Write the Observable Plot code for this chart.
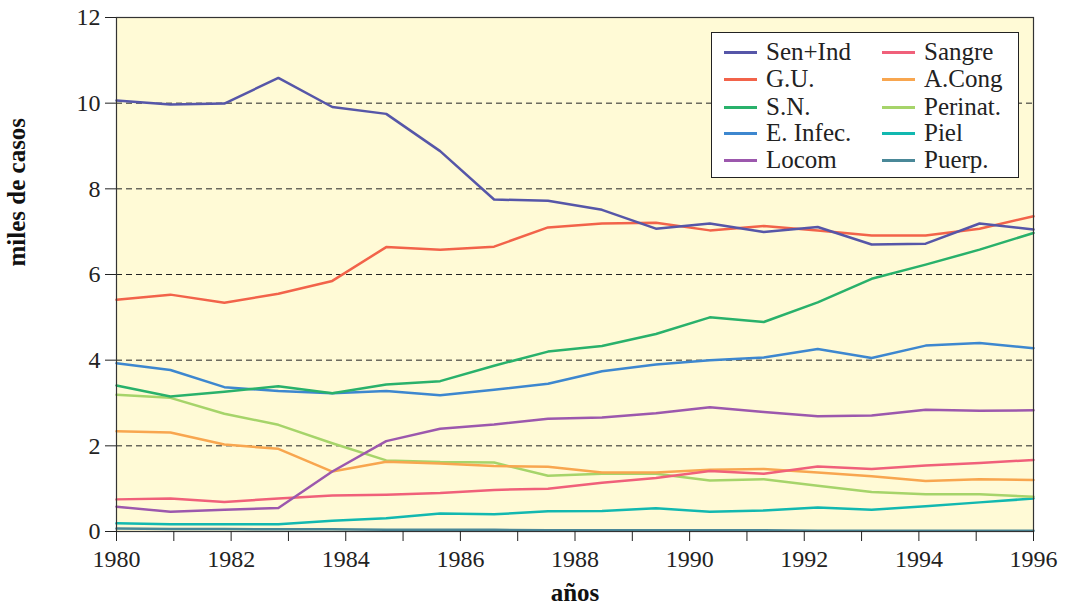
<!DOCTYPE html>
<html>
<head>
<meta charset="utf-8">
<script src="https://cdn.jsdelivr.net/npm/d3@7"></script>
<script src="https://cdn.jsdelivr.net/npm/@observablehq/plot@0.6"></script>
<style>
  html, body { margin: 0; padding: 0; background: #fff; }
  #wrap { position: relative; width: 1074px; height: 610px; }
  #legend { position: absolute; left: 711px; top: 32px; width: 306px; height: 144px;
    background: #fff; border: 1.5px solid #222; font-family: "Liberation Serif", "Times New Roman", Times, "DejaVu Serif", serif; font-size: 25px; color: #222; }
  .item { position: absolute; display: flex; align-items: center; height: 26px; white-space: nowrap; }
  .item span.sw { display: inline-block; width: 33px; height: 3px; margin-right: 9px; }
</style>
</head>
<body>
<div id="wrap"></div>
<script>
// x positions (years) of the 18 data points
const puntos = [1980, 1980.941, 1981.882, 1982.824, 1983.765, 1984.706, 1985.647, 1986.588, 1987.529,
                1988.471, 1989.412, 1990.353, 1991.294, 1992.235, 1993.176, 1994.118, 1995.059, 1996];

const senInd  = [10.06, 9.97, 9.99, 10.59, 9.91, 9.75, 8.88, 7.75, 7.72, 7.51, 7.07, 7.19, 6.99, 7.11, 6.70, 6.72, 7.19, 7.05];
const gu      = [5.41, 5.53, 5.34, 5.55, 5.85, 6.64, 6.58, 6.65, 7.10, 7.19, 7.21, 7.03, 7.13, 7.03, 6.91, 6.91, 7.07, 7.36];
const sn      = [3.41, 3.15, 3.26, 3.39, 3.23, 3.43, 3.51, 3.87, 4.20, 4.33, 4.61, 5.00, 4.89, 5.35, 5.90, 6.23, 6.58, 6.97];
const eInfec  = [3.93, 3.77, 3.37, 3.28, 3.23, 3.28, 3.18, 3.31, 3.45, 3.74, 3.90, 4.00, 4.06, 4.26, 4.05, 4.34, 4.40, 4.28];
const locom   = [0.58, 0.46, 0.51, 0.55, 1.40, 2.11, 2.40, 2.50, 2.63, 2.66, 2.76, 2.90, 2.79, 2.69, 2.71, 2.84, 2.82, 2.83];
const sangre  = [0.75, 0.77, 0.69, 0.77, 0.84, 0.86, 0.90, 0.97, 1.00, 1.14, 1.25, 1.41, 1.35, 1.52, 1.46, 1.54, 1.60, 1.67];
const aCong   = [2.34, 2.31, 2.03, 1.93, 1.40, 1.63, 1.59, 1.53, 1.51, 1.38, 1.38, 1.44, 1.46, 1.38, 1.29, 1.18, 1.22, 1.20];
const perinat = [3.19, 3.12, 2.75, 2.49, 2.06, 1.66, 1.62, 1.61, 1.30, 1.35, 1.35, 1.19, 1.22, 1.07, 0.92, 0.87, 0.87, 0.81];
const piel    = [0.19, 0.17, 0.17, 0.17, 0.25, 0.31, 0.42, 0.40, 0.47, 0.48, 0.54, 0.46, 0.49, 0.56, 0.51, 0.59, 0.68, 0.77];
const puerp   = [0.07, 0.06, 0.06, 0.05, 0.05, 0.04, 0.04, 0.04, 0.03, 0.03, 0.03, 0.03, 0.03, 0.02, 0.02, 0.02, 0.02, 0.02];

const nombres = ["Sen+Ind", "G.U.", "S.N.", "E. Infec.", "Locom", "Sangre", "A.Cong", "Perinat.", "Piel", "Puerp."];
const valores = [senInd, gu, sn, eInfec, locom, sangre, aCong, perinat, piel, puerp];
const colores = ["#5656a8", "#f2634a", "#29b16b", "#3d87cf", "#9c58ad", "#f0607a", "#f8a64f", "#a6d46a", "#12b8b0", "#4a8898"];

const yTicks = [0, 2, 4, 6, 8, 10, 12];
const gridY = [2, 4, 6, 8, 10];
const xTicks = d3.range(1980, 1997);

const data = [];
nombres.forEach((n, i) => valores[i].forEach((v, j) => data.push({serie: n, x: puntos[j], y: v})));

const serifStack = "'Liberation Serif', 'Times New Roman', Times, 'DejaVu Serif', serif";

const chart = Plot.plot({
  width: 1074, height: 610,
  marginLeft: 116, marginRight: 41, marginTop: 17, marginBottom: 79,
  style: {fontFamily: serifStack, fontSize: "24px", color: "#222", background: "#fff"},
  x: {domain: [1980, 1996]},
  y: {domain: [0, 12]},
  color: {domain: nombres, range: colores},
  marks: [
    Plot.frame({fill: "#fffad6"}),
    Plot.ruleY(gridY, {stroke: "#222", strokeDasharray: "6,4", strokeWidth: 1}),
    Plot.line(data.slice().reverse(), {x: "x", y: "y", z: "serie", stroke: "serie", strokeWidth: 2.5}),
    Plot.frame({stroke: "#333", strokeWidth: 1.2}),
    Plot.axisY({ticks: yTicks, tickSize: 11, tickPadding: 5, label: null, tickFormat: d => d}),
    Plot.axisX({ticks: xTicks, tickSize: 10, tickPadding: 8, label: null,
                tickFormat: d => (d % 2 === 0 ? String(d) : "")}),
    Plot.text(["miles de casos"], {frameAnchor: "left", dx: -100, dy: -8, rotate: -90,
      fontSize: 25, fontWeight: "bold", fontFamily: serifStack, fill: "#111"}),
    Plot.text(["años"], {frameAnchor: "bottom", dy: 69, fontSize: 25, fontWeight: "bold",
      fontFamily: serifStack, fill: "#111"})
  ]
});
const wrap = document.getElementById("wrap");
wrap.appendChild(chart);

// legend
const legend = document.createElement("div");
legend.id = "legend";
const rowTops = [6, 33, 61, 87, 114];
nombres.forEach((n, i) => {
  const col = i < 5 ? 0 : 1;
  const row = i % 5;
  const it = document.createElement("div");
  it.className = "item";
  it.style.left = (col === 0 ? 12 : 170) + "px";
  it.style.top = rowTops[row] + "px";
  const sw = document.createElement("span");
  sw.className = "sw";
  sw.style.background = colores[i];
  it.appendChild(sw);
  const t = document.createElement("span");
  t.textContent = n;
  it.appendChild(t);
  legend.appendChild(it);
});
wrap.appendChild(legend);
</script>
</body>
</html>
